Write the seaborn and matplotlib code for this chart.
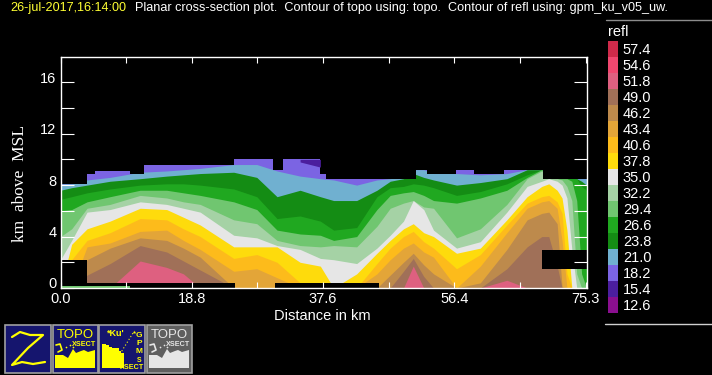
import numpy as np
import pandas as pd
import matplotlib
matplotlib.use("Agg")
import matplotlib.pyplot as plt
from matplotlib.colors import ListedColormap
from matplotlib.patches import Rectangle, Polygon
from matplotlib.transforms import ScaledTranslation
import seaborn as sns

# ---- data ----
levels = ["57.4","54.6","51.8","49.0","46.2","43.4","40.6","37.8","35.0",
          "32.2","29.4","26.6","23.8","21.0","18.2","15.4","12.6"]
level_colors = ["#cf2a4a","#f0476f","#de6080","#a07058","#bd8a4c","#e3a538","#fdbb1b","#fedb0c",
                "#e6e6e6","#a5d2a5","#70c670","#20a820","#148c14","#70b0d0","#7b64e3","#4b1e9e","#8a0f8f"]

dist = [0.0,1.6,3.8,7.1,11.4,15.2,17.6,20.0,24.8,28.1,31.0,34.3,37.2,39.1,42.4,45.3,
        47.2,49.1,50.5,52.0,53.4,56.7,60.1,63.9,66.8,68.9,69.9,71.1,71.8,72.5,73.2,73.9,74.6,75.3]
# height (km) of the top of each reflectivity band at each distance
top_21 = [8.1,8.1,8.4,8.6,9.0,9.1,9.2,9.3,9.6,9.6,9.1,8.7,8.5,8.4,8.0,8.4,8.5,8.7,9.2,9.2,8.9,8.9,8.8,8.9,9.2,9.2,8.5,8.5,8.5,8.5,8.5,8.5,8.5,8.5]
top_238 = [7.6,7.8,8.0,8.3,8.5,8.7,8.8,8.9,9.0,8.6,7.1,7.6,7.1,6.8,6.8,7.6,8.3,8.5,8.9,8.6,8.4,8.0,8.2,8.5,9.2,9.2,8.5,8.5,8.5,8.5,8.5,8.5,8.3,8.0]
top_266 = [6.9,7.1,7.4,7.7,8.0,8.1,8.1,8.0,7.7,7.1,5.4,5.6,5.2,4.5,4.7,7.1,7.8,7.9,8.1,8.0,7.8,7.2,7.5,8.1,8.8,9.2,8.5,8.5,8.5,8.5,8.5,8.5,7.9,7.6]
top_294 = [6.0,6.1,6.7,7.1,7.6,7.6,7.4,7.2,6.7,6.1,4.5,4.2,4.1,3.7,4.0,6.1,7.2,7.4,7.5,7.2,6.8,6.6,7.0,7.6,8.6,9.2,8.5,8.5,8.5,8.5,8.3,6.8,1.1,0]
top_322 = [4.0,4.6,6.2,6.5,7.2,7.0,6.7,6.5,5.3,5.0,3.7,3.3,3.2,3.3,3.2,4.8,6.2,6.6,6.8,6.3,6.2,3.9,4.6,6.5,8.5,9.1,8.5,8.5,8.4,7.9,6.8,1.1,0,0]
top_350 = [2.2,3.7,5.9,6.1,6.7,6.5,6.2,5.9,4.1,3.9,3.3,3.0,2.3,2.2,1.9,3.1,4.1,5.2,6.8,6.1,4.5,3.1,3.6,5.9,7.9,8.3,8.5,8.3,8.0,7.0,3.0,0,0,0]
top_378 = [0,3.4,4.6,5.2,6.2,6.1,5.5,4.9,3.2,3.2,3.2,2.0,1.7,0,1.1,2.7,3.7,4.6,5.0,4.3,4.0,2.7,3.1,5.3,7.1,7.9,8.1,7.6,7.0,4.5,0,0,0,0]
top_406 = [0,2.2,3.7,4.3,5.4,5.3,4.6,4.0,2.3,2.6,2.0,0.4,0,0,0,1.9,3.1,4.0,4.4,3.6,3.1,1.5,2.6,4.9,6.6,7.1,7.2,6.7,5.8,1.1,0,0,0,0]
top_434 = [0,0,3.2,3.5,4.4,4.5,3.7,3.0,1.3,1.5,0.8,0,0,0,0,1.1,2.2,3.1,3.5,2.8,2.4,0,1.7,4.3,6.2,6.7,6.8,6.2,3.7,0,0,0,0,0]
top_462 = [0,0,2.2,3.1,3.9,3.7,3.1,2.4,0,0,0,0,0,0,0,0,1.0,2.0,2.7,1.8,1.1,0,0.4,3.0,5.3,5.8,5.9,5.0,0.1,0,0,0,0,0]
top_490 = [0,0,1.0,1.9,3.3,2.8,2.1,1.4,0,0,0,0,0,0,0,0,0,1.3,2.3,0.9,0,0,0,1.5,3.2,4.0,4.0,1.7,0,0,0,0,0,0]
top_518 = [0,0,0,0,2.1,1.6,1.1,0,0,0,0,0,0,0,0,0,0,0,1.7,0,0,0,0,0.6,0,0,0,0,0,0,0,0,0,0]

# echo top (stepped); the 18.2 band reaches up to it
echo_x = [0.0,3.8,5.0,9.9,12.0,24.8,30.4,31.9,37.2,38.0,50.9,52.5,56.6,59.2,63.5,69.1,75.3]
echo_top = [8.1,8.9,9.1,8.9,9.6,10.0,9.2,10.0,8.9,8.5,9.2,8.9,9.2,8.9,9.2,8.5,8.5]
# small 15.4 dBZ patch
dark_x = [34.3,37.2]
dark_top = [10.0,10.0]
dark_bottom = [9.8,9.4]
# missing-data blocks: x0, x1, z0, z1
missing_x0 = [0.0,0.0,10.0,30.7,68.9]
missing_x1 = [3.8,10.0,25.0,45.6,75.3]
missing_z0 = [0.36,0.15,0.0,0.0,1.48]
missing_z1 = [2.15,0.36,0.36,0.36,2.96]
ground_x = [0.0,10.0]
ground_z = [0.15,0.15]

bands = [("21.0",top_21),("23.8",top_238),("26.6",top_266),("29.4",top_294),("32.2",top_322),
         ("35.0",top_350),("37.8",top_378),("40.6",top_406),("43.4",top_434),("46.2",top_462),
         ("49.0",top_490),("51.8",top_518)]

x_ticks = [0,9.4,18.8,28.2,37.6,47.0,56.4,65.8,75.2]
x_labels = ["0.0","","18.8","","37.6","","56.4","","75.3"]
y_ticks = [0,2,4,6,8,10,12,14,16]
y_labels = ["0","","4","","8","","12","","16"]

# ---- style ----
W, H = 712, 375
sns.set_style("dark", {"axes.facecolor": "black", "figure.facecolor": "black", "axes.edgecolor": "white",
                       "text.color": "white", "xtick.color": "white", "ytick.color": "white",
                       "axes.grid": False})
plt.rcParams["font.family"] = ["Liberation Sans", "DejaVu Sans"]
palette = dict(zip(levels, sns.color_palette(level_colors)))

fig = plt.figure(figsize=(W/100, H/100), dpi=100, facecolor="black")
def px_axes(x0, y0, x1, y1):
    return fig.add_axes([x0/W, 1-y1/H, (x1-x0)/W, (y1-y0)/H])

# ---- main panel ----
ax = px_axes(60.5, 56.5, 586.5, 288)
ax.set_xlim(0, 75.3)
ax.set_ylim(0, 18)
ax.set_axisbelow(False)
ax.fill_between(echo_x, 0, echo_top, step="post", color=palette["18.2"], lw=0, antialiased=False)
for name, top in bands:
    ax.fill_between(dist, 0, top, color=palette[name], lw=0, antialiased=False)
ax.fill_between(echo_x, echo_top, 18, step="post", color="black", lw=0, antialiased=False)
ax.fill_between(dark_x, dark_bottom, dark_top, color=palette["15.4"], lw=0, antialiased=False)
for a, b, c, d in zip(missing_x0, missing_x1, missing_z0, missing_z1):
    ax.fill_between([a, b], c, d, color="black", lw=0, antialiased=False)
ax.fill_between(ground_x, 0, ground_z, color=palette["29.4"], lw=0, antialiased=False)

ax.set_xticks(x_ticks, x_labels, fontsize=10.5)
ax.set_yticks(y_ticks, y_labels, fontsize=10.5)
ax.tick_params(axis="x", direction="in", length=4.2, width=0.8, top=True, bottom=True, pad=3, color="white")
ax.tick_params(axis="y", direction="in", length=9.4, width=0.8, left=True, right=True, pad=3, color="white")
up = ScaledTranslation(0, 5/100, fig.dpi_scale_trans)
for t in ax.get_yticklabels():
    t.set_transform(t.get_transform() + up)
for s in ax.spines.values():
    s.set_color("white"); s.set_linewidth(1.0); s.set_visible(True)
ax.set_zorder(3)
ax.set_xlabel("")
ax.set_ylabel("")

# ---- colour key, drawn as a one-column heatmap ----
cax = px_axes(608, 41, 618, 313)
table = pd.DataFrame({"refl": np.arange(len(levels))}, index=levels)
sns.heatmap(table, ax=cax, cmap=ListedColormap(level_colors), cbar=False, xticklabels=False, yticklabels=True)
cax.yaxis.tick_right()
cax.set_yticklabels(levels, rotation=0, fontsize=10.5, color="white")
cax.tick_params(axis="y", length=0, pad=3.5)
cax.set_xlabel(""); cax.set_ylabel("")

# ---- everything positioned in pixels: titles, rules, icons ----
ov = fig.add_axes([0, 0, 1, 1], facecolor="none")
ov.set_xlim(0, W); ov.set_ylim(H, 0); ov.axis("off"); ov.set_zorder(5)
ov.text(10, 8.5, "26-jul-2017,16:14:00", color="#ffff33", fontsize=9.07, va="center", ha="left")
ov.text(135, 8.5, "Planar cross-section plot.  Contour of topo using: topo.  Contour of refl using: gpm_ku_v05_uw.",
        color="white", fontsize=9.07, va="center", ha="left")
ov.text(608, 32, "refl", color="white", fontsize=10.5, va="center", ha="left")
ov.text(322, 316, "Distance in km", color="white", fontsize=10.5, va="center", ha="center")
ov.text(20, 183, "km  above  MSL", color="white", fontsize=12.5, family="Liberation Serif", rotation=90,
        va="center", ha="center")
ov.plot([606, 712], [19.5, 19.5], color="#8c8c8c", lw=1)
ov.plot([605, 712], [323.5, 323.5], color="#d0d0d0", lw=1)

NAVY, Y, GB, GF = "#15156e", "#ffff00", "#5f5f5f", "#e6e6e6"
for x0, fc in zip([5, 52.5, 99, 146.5], [NAVY, NAVY, NAVY, GB]):
    ov.add_patch(Rectangle((x0, 325), 45.5, 47.5, fc=fc, ec="#a0a0a0", lw=1.2))
# Z icon
ov.plot([12,20,30,43,28,12,22,33,45], [337,332,335,335,348,365,362,364,362], color=Y, lw=1.6)
# topo icons
def topo(dx, col):
    ov.text(75+dx, 335.5, "TOPO", color=col, fontsize=9.5, ha="center", va="center", fontweight="light")
    ov.text(84+dx, 344, "XSECT", color=col, fontsize=5.2, ha="center", va="center", fontweight="bold")
    ov.add_patch(Polygon([(55+dx,368),(55+dx,355),(63+dx,355),(68+dx,358),(73+dx,349),(76+dx,353),
                          (81+dx,351),(84+dx,350),(88+dx,352),(95+dx,350),(95+dx,368)], fc=col, ec="none"))
    ov.plot([56+dx,60+dx,62+dx,58+dx], [345,344,350,352], color=col, lw=1.2)
    ov.scatter([66+dx,70+dx,73+dx],[347,345,347], s=1.5, color=col, lw=0)
topo(0, Y)
topo(94, GF)
# radar icon
ov.text(116, 333, "*Ku'", color=Y, fontsize=6.5, ha="center", va="center", fontweight="bold")
xx, yy = np.meshgrid(np.arange(103, 124, 1.5), np.arange(343, 368, 1.5))
mask = (xx + yy*0.0 < 124) & (yy > 343 + (xx-103)*0.5)
ov.scatter(xx[mask], yy[mask], s=1.0, color=Y, lw=0, marker="s")
ov.add_patch(Rectangle((103, 361), 8, 7, fc=Y, ec="none"))
ov.add_patch(Rectangle((112, 348), 7, 7, fc=Y, ec="none"))
ov.scatter([134], [332], s=8, color=Y, marker="*", lw=0)
ov.plot([120, 133], [354, 333], color=Y, lw=0.8, ls=(0, (1, 2)))
for i, ch in enumerate("GPM"):
    ov.text(139, 335.5+i*8, ch, color=Y, fontsize=6, ha="center", va="center", fontweight="bold")
ov.text(139, 360, "S", color=Y, fontsize=5, ha="center", va="center", fontweight="bold")
ov.text(132, 367.5, "XSECT", color=Y, fontsize=5.2, ha="center", va="center", fontweight="bold")

fig.savefig("out.png", dpi=100, facecolor="black")
